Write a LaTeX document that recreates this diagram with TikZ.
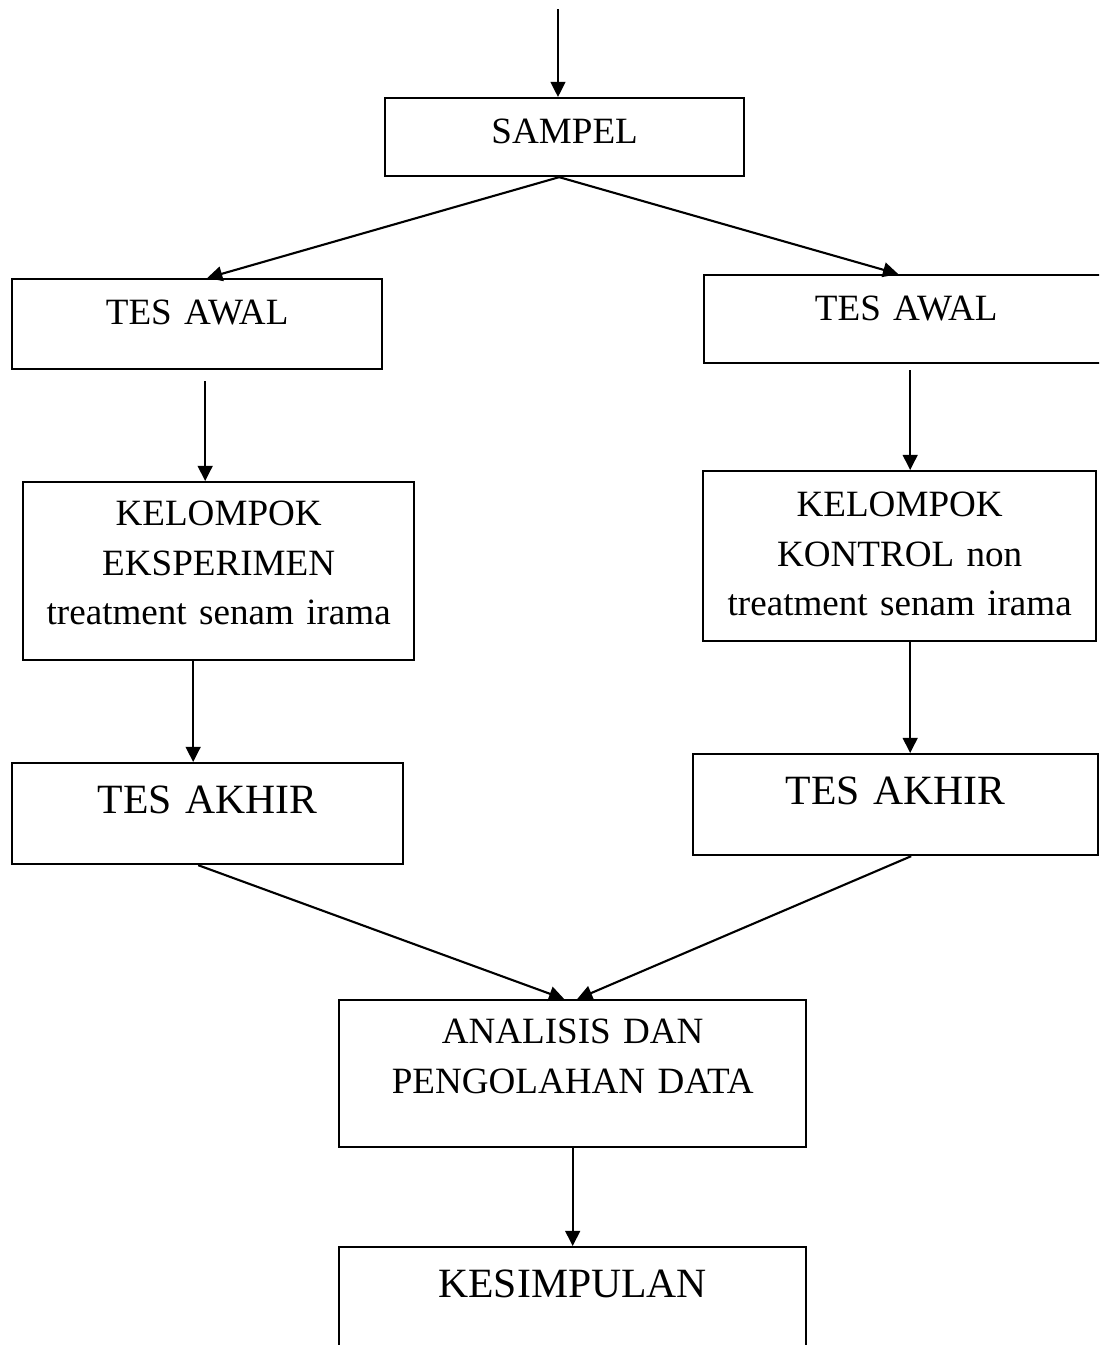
\documentclass[tikz,border=0pt]{standalone}
\usepackage{fontspec}
\setmainfont{Liberation Serif}
\usetikzlibrary{arrows.meta}

\begin{document}
\begin{tikzpicture}[
  x=0.01cm, y=-0.01cm,
  box/.style={rectangle, draw, line width=0.6pt, inner sep=0pt, align=center,
              anchor=north west, font=\fontsize{10.55}{14.2}\selectfont},
  big/.style={font=\fontsize{11.85}{14.2}\selectfont},
  arrow/.style={-{Triangle[length=4.3pt, width=4.2pt]}, line width=0.6pt}
]
  \clip (0,0) rectangle (1099,1345);
  % 顶部
  \coordinate (masuk) at (558,9);
  \node[box, text width=3.59cm, text height=.45cm, text depth=.33cm] (sampel) at (384,97) {SAMPEL};
  % 左列：实验组
  \node[box, text width=3.70cm, text height=.45cm, text depth=.45cm] (awalA) at (11,278) {TES AWAL};
  \node[box, text width=3.91cm, text height=.43cm, text depth=1.35cm] (kelA) at (22,481) {KELOMPOK\\EKSPERIMEN\\treatment senam irama};
  \node[box, big, text width=3.91cm, text height=.50cm, text depth=.51cm] (akhirA) at (11,762) {TES AKHIR};
  % 右列：对照组
  \node[box, text width=4.04cm, text height=.45cm, text depth=.43cm] (awalB) at (703,274) {TES AWAL};
  \node[box, text width=3.93cm, text height=.45cm, text depth=1.25cm] (kelB) at (702,470) {KELOMPOK\\KONTROL non\\treatment senam irama};
  \node[box, big, text width=4.05cm, text height=.50cm, text depth=.51cm] (akhirB) at (692,753) {TES AKHIR};
  % 合并
  \node[box, text width=4.67cm, text height=.43cm, text depth=1.04cm] (analisis) at (338,999) {ANALISIS DAN\\PENGOLAHAN DATA};
  \node[box, big, text width=4.67cm, text height=.50cm, text depth=1.60cm] (kesimpulan) at (338,1246) {KESIMPULAN};
  % 连线
  \draw[arrow] (masuk) -- (masuk |- sampel.north);
  \draw[arrow] ([xshift=-.055cm]sampel.south) -- ([xshift=.10cm]awalA.north);
  \draw[arrow] ([xshift=-.055cm]sampel.south) -- ([xshift=-.08cm]awalB.north);
  \draw[arrow, shorten <=.11cm] ([xshift=.08cm]awalA.south) -- ([xshift=.08cm]awalA.south |- kelA.north);
  \draw[arrow, shorten <=.06cm] ([xshift=.04cm]awalB.south) -- ([xshift=.04cm]awalB.south |- kelB.north);
  \draw[arrow] ([xshift=-.255cm]kelA.south) -- ([xshift=-.255cm]kelA.south |- akhirA.north);
  \draw[arrow] ([xshift=.105cm]kelB.south) -- ([xshift=.105cm]kelB.south |- akhirB.north);
  \draw[arrow] ([xshift=-.095cm]akhirA.south) -- ([xshift=-.085cm]analisis.north);
  \draw[arrow] ([xshift=.155cm]akhirB.south) -- ([xshift=.045cm]analisis.north);
  \draw[arrow] (analisis.south) -- (kesimpulan.north);
\end{tikzpicture}
\end{document}
